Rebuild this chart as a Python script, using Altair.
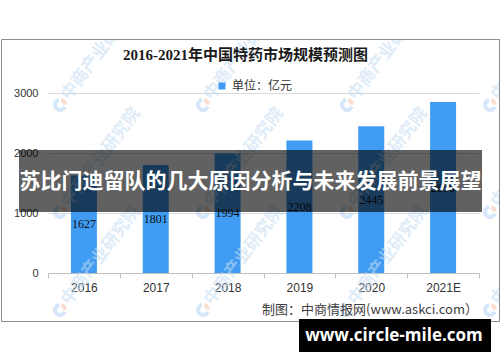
import altair as alt
import pandas as pd

# ---- data ----
years = ["2016", "2017", "2018", "2019", "2020", "2021E"]
values = [1627, 1801, 1994, 2208, 2445, 2850]
series_name = "单位：亿元"
y_ticks = [0, 1000, 2000, 3000]
title_text = "2016-2021年中国特药市场规模预测图"
banner_text = "苏比门迪留队的几大原因分析与未来发展前景展望"
source_text = "制图：中商情报网(www.askci.com）"
site_text = "www.circle-mile.com"
watermark_text = "中商产业研究院"
wm_cols = [-83, 60, 203, 347, 490]
wm_rows = [105, 212, 310]

# ---- layout (page pixels) ----
OX, OY = 48, 93
W, H = 431, 180

SANS = "Liberation Sans, Noto Sans CJK SC, sans-serif"
SERIF = "Liberation Serif, Noto Sans CJK SC, serif"
CJK = "Noto Sans CJK SC, sans-serif"

df = pd.DataFrame({"year": years, "value": values, "series": [series_name] * len(years)})
one = pd.DataFrame({"k": [0]})


def px(x):
    return x - OX


def py(y):
    return y - OY


bars = alt.Chart(df).mark_bar(size=26).encode(
    x=alt.X("year:N", sort=years,
            scale=alt.Scale(paddingInner=0, paddingOuter=0),
            axis=alt.Axis(title=None, labelAngle=0, tickBand="extent", domainColor="#bfbfbf",
                          tickColor="#bfbfbf", tickSize=5, labelPadding=4, labelFont=SANS,
                          labelFontSize=12, labelColor="#333333", grid=False)),
    y=alt.Y("value:Q", scale=alt.Scale(domain=[0, 3000], nice=False),
            axis=alt.Axis(title=None, values=y_ticks, format="d", domain=False, ticks=False,
                          labelPadding=10, labelFont=SANS, labelFontSize=11, labelColor="#333333",
                          gridColor="#d9d9d9", gridWidth=1.2)),
    color=alt.Color("series:N", scale=alt.Scale(range=["#3f9cf2"]),
                    legend=alt.Legend(title=None, orient="none", legendX=168, legendY=-13,
                                      symbolType="square", symbolSize=49, symbolStrokeWidth=0,
                                      labelFont=CJK, labelFontSize=12, labelColor="#333333")),
)

labels = alt.Chart(df).transform_calculate(mid="datum.value / 2").mark_text(
    font=SERIF, fontSize=12, color="#111111"
).encode(
    x=alt.X("year:N", sort=years),
    y=alt.Y("mid:Q"),
    text=alt.Text("value:Q"),
)

data_layer = alt.layer(bars, labels)

# watermark grid
wm_rows_data = []
for cy in wm_rows:
    for cx in wm_cols:
        wm_rows_data.append({"lx": px(cx), "ly": py(cy), "tx": px(cx) + 5, "ty": py(cy) - 7})
wm = pd.DataFrame(wm_rows_data)

wm_text = alt.Chart(wm).mark_text(
    text=watermark_text, font=CJK, fontSize=17, fontWeight="bold", color="#c4ddf4", opacity=0.55,
    angle=307, align="left", baseline="middle"
).encode(x=alt.X("tx:Q", scale=None, axis=None), y=alt.Y("ty:Q", scale=None, axis=None))

wm_logo_blue = alt.Chart(wm).mark_arc(
    radius=7, radius2=3, theta=1.9, theta2=6.1, color="#b9d7f3", opacity=0.6
).encode(x=alt.X("lx:Q", scale=None, axis=None), y=alt.Y("ly:Q", scale=None, axis=None))

wm_logo_orange = alt.Chart(wm).mark_arc(
    radius=7, radius2=3, theta=0.25, theta2=1.5, color="#f6c7b3", opacity=0.6
).encode(x=alt.X("lx:Q", scale=None, axis=None), y=alt.Y("ly:Q", scale=None, axis=None))


def rect(x1, y1, x2, y2, **kw):
    return alt.Chart(one).mark_rect(**kw).encode(
        x=alt.value(px(x1)), x2=alt.value(px(x2)), y=alt.value(py(y1)), y2=alt.value(py(y2)))


def text(t, x, y, **kw):
    return alt.Chart(one).mark_text(text=t, **kw).encode(x=alt.value(px(x)), y=alt.value(py(y)))


cover_top = rect(0, 0, 500, 39, color="white")
cover_bottom = rect(0, 322, 500, 362, color="white")
frame = rect(1.5, 39.5, 499.5, 321.5, fill=None, fillOpacity=0, stroke="#8c8c8c", strokeWidth=1)

banner = rect(19, 150, 482, 212, color="black", opacity=0.62)
banner_t = text(banner_text, 250.5, 182, font=CJK, fontSize=21, fontWeight="bold", color="white",
                align="center", baseline="middle")

title = text(title_text, 245.5, 55, font=SERIF, fontSize=15, fontWeight="bold", color="#1a1a1a",
             align="center", baseline="middle")
source = text(source_text, 478, 310, font=CJK, fontSize=13, color="#404040", align="right",
              baseline="middle")

site_box = rect(299, 319, 491, 352, color="black")
site_t = text(site_text, 394, 336, font="Open Sans, DejaVu Sans, sans-serif", fontSize=17,
              fontWeight="bold", color="white", align="center", baseline="middle")

chart = alt.layer(
    data_layer, wm_text, wm_logo_blue, wm_logo_orange, cover_top, cover_bottom, frame,
    banner, banner_t, title, source, site_box, site_t
).resolve_scale(x="independent", y="independent").properties(
    width=W, height=H,
    padding={"left": OX, "top": OY, "right": 500 - OX - W, "bottom": 362 - OY - H},
    autosize=alt.AutoSizeParams(type="none"),
    background="white",
).configure_view(stroke=None)

chart.save("out.html", embed_options={"renderer": "svg", "actions": False})
